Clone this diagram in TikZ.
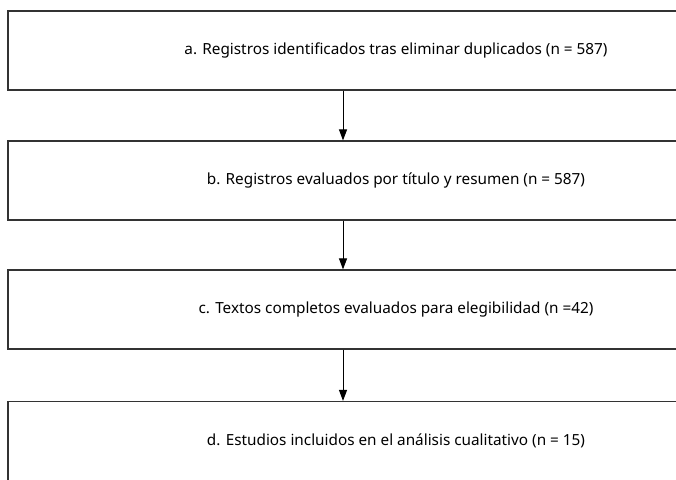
\documentclass[tikz,border=0pt]{standalone}
\usepackage{fontspec}
\setmainfont{Noto Sans}
\usetikzlibrary{arrows.meta}
\begin{document}
\begin{tikzpicture}[x=1pt,y=-1pt,
  stagebox/.style={draw=black!80,line width=1.2pt,minimum width=776pt,minimum height=79pt,inner sep=0pt,font=\fontsize{15.3}{18}\selectfont,text=black},
  flow/.style={draw=black,line width=1pt,-{Triangle[length=11pt,width=8pt]}}]
\useasboundingbox (0,0) rectangle (676,479);
\clip (0,0) rectangle (676,479);
\fill[white] (0,0) rectangle (676,479);
\coordinate (ax) at (343,0);
\node[stagebox] (a) at (396,50.5) {a. Registros identificados tras eliminar duplicados (n = 587)};
\node[stagebox] (b) at (396,180.5) {b. Registros evaluados por título y resumen (n = 587)};
\node[stagebox] (c) at (396,309.5) {c. Textos completos evaluados para elegibilidad (n =42)};
\node[stagebox] (d) at (396,441) {d. Estudios incluidos en el análisis cualitativo (n = 15)};
\draw[flow] (a.south -| ax) -- (b.north -| ax);
\draw[flow] (b.south -| ax) -- (c.north -| ax);
\draw[flow] (c.south -| ax) -- (d.north -| ax);
\end{tikzpicture}
\end{document}
